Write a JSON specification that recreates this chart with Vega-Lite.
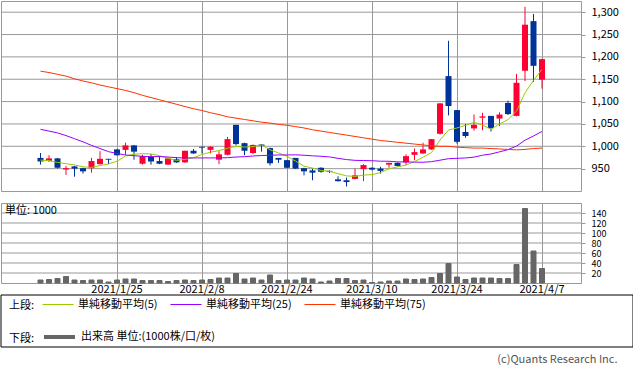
{
  "$schema": "https://vega.github.io/schema/vega-lite/v6.json",
  "padding": 0,
  "background": "white",
  "bounds": "flush",
  "spacing": 12,
  "title": {"text": "(c)Quants Research Inc.", "orient": "bottom", "anchor": "end", "fontSize": 11, "fontWeight": "normal", "color": "#555555", "offset": 6, "dx": -16},
  "config": {
    "font": "Noto Sans CJK JP",
    "view": {"stroke": "#999999"},
    "axis": {"ticks": false, "domain": false, "gridColor": "#999999", "gridOpacity": 1, "gridWidth": 1, "labelFontSize": 11, "labelColor": "#000000", "labelFont": "Noto Sans CJK JP", "labelOverlap": false},
    "legend": {"labelFont": "Noto Sans CJK JP", "titleFont": "Noto Sans CJK JP", "labelFontSize": 11, "titleFontSize": 11, "titleFontWeight": "normal", "labelColor": "#000000", "titleColor": "#000000", "padding": 0}
  },
  "datasets": {
    "priceGrid": [{"g":950},{"g":1000},{"g":1050},{"g":1100},{"g":1150},{"g":1200},{"g":1250},{"g":1300}],
    "volGrid": [{"g":20},{"g":40},{"g":60},{"g":80},{"g":100},{"g":120},{"g":140}],
    "k": [
      {"d":"2021/1/12","o":974,"h":985,"l":959,"c":966,"v":6,"単純移動平均(5)":969,"単純移動平均(25)":1038,"単純移動平均(75)":1168},
      {"d":"2021/1/13","o":967,"h":980,"l":965,"c":973,"v":7,"単純移動平均(5)":968,"単純移動平均(25)":1034,"単純移動平均(75)":1165},
      {"d":"2021/1/14","o":973,"h":974,"l":950,"c":952,"v":9,"単純移動平均(5)":964,"単純移動平均(25)":1030,"単純移動平均(75)":1161},
      {"d":"2021/1/15","o":948,"h":956,"l":936,"c":951,"v":13,"単純移動平均(5)":961,"単純移動平均(25)":1024,"単純移動平均(75)":1157},
      {"d":"2021/1/18","o":955,"h":956,"l":932,"c":950,"v":6,"単純移動平均(5)":958.4,"単純移動平均(25)":1017,"単純移動平均(75)":1151},
      {"d":"2021/1/19","o":951,"h":952,"l":939,"c":944,"v":5,"単純移動平均(5)":954,"単純移動平均(25)":1010,"単純移動平均(75)":1146},
      {"d":"2021/1/20","o":951,"h":974,"l":941,"c":967,"v":6,"単純移動平均(5)":952.8,"単純移動平均(25)":1002,"単純移動平均(75)":1142},
      {"d":"2021/1/21","o":960,"h":989,"l":959,"c":972,"v":6,"単純移動平均(5)":956.8,"単純移動平均(25)":995,"単純移動平均(75)":1137},
      {"d":"2021/1/22","o":972,"h":972,"l":960,"c":970,"v":2,"単純移動平均(5)":960.6,"単純移動平均(25)":988,"単純移動平均(75)":1133},
      {"d":"2021/1/25","o":993,"h":994,"l":979,"c":980,"v":6,"単純移動平均(5)":966.6,"単純移動平均(25)":984,"単純移動平均(75)":1129},
      {"d":"2021/1/26","o":992,"h":1008,"l":981,"c":1002,"v":8,"単純移動平均(5)":978.2,"単純移動平均(25)":980.5,"単純移動平均(75)":1125},
      {"d":"2021/1/27","o":1002,"h":1003,"l":970,"c":988,"v":8,"単純移動平均(5)":982.4,"単純移動平均(25)":979,"単純移動平均(75)":1120},
      {"d":"2021/1/28","o":961,"h":981,"l":959,"c":978,"v":5,"単純移動平均(5)":983.6,"単純移動平均(25)":977.6,"単純移動平均(75)":1114},
      {"d":"2021/1/29","o":976,"h":983,"l":959,"c":966,"v":5,"単純移動平均(5)":982.8,"単純移動平均(25)":977,"単純移動平均(75)":1109},
      {"d":"2021/2/1","o":967,"h":978,"l":960,"c":961,"v":5,"単純移動平均(5)":979,"単純移動平均(25)":977,"単純移動平均(75)":1104},
      {"d":"2021/2/2","o":959,"h":975,"l":958,"c":973,"v":3,"単純移動平均(5)":973.2,"単純移動平均(25)":976,"単純移動平均(75)":1099},
      {"d":"2021/2/3","o":971,"h":976,"l":963,"c":964,"v":5,"単純移動平均(5)":968.4,"単純移動平均(25)":974.5,"単純移動平均(75)":1094},
      {"d":"2021/2/4","o":964,"h":990,"l":963,"c":990,"v":6,"単純移動平均(5)":970.8,"単純移動平均(25)":974,"単純移動平均(75)":1089},
      {"d":"2021/2/5","o":990,"h":994,"l":983,"c":984,"v":5,"単純移動平均(5)":974.4,"単純移動平均(25)":974,"単純移動平均(75)":1084},
      {"d":"2021/2/8","o":999,"h":999,"l":984,"c":997,"v":6,"単純移動平均(5)":981.6,"単純移動平均(25)":974,"単純移動平均(75)":1080},
      {"d":"2021/2/9","o":992,"h":1000,"l":984,"c":999,"v":7,"単純移動平均(5)":986.8,"単純移動平均(25)":974,"単純移動平均(75)":1075},
      {"d":"2021/2/10","o":970,"h":989,"l":960,"c":982,"v":10,"単純移動平均(5)":990.4,"単純移動平均(25)":974,"単純移動平均(75)":1071},
      {"d":"2021/2/12","o":981,"h":1021,"l":980,"c":1016,"v":10,"単純移動平均(5)":995.6,"単純移動平均(25)":974.5,"単純移動平均(75)":1066},
      {"d":"2021/2/15","o":1048,"h":1048,"l":1002,"c":1005,"v":19,"単純移動平均(5)":999.8,"単純移動平均(25)":976,"単純移動平均(75)":1063},
      {"d":"2021/2/16","o":1007,"h":1008,"l":980,"c":990,"v":8,"単純移動平均(5)":998.4,"単純移動平均(25)":976.8,"単純移動平均(75)":1060},
      {"d":"2021/2/17","o":985,"h":1004,"l":983,"c":1003,"v":10,"単純移動平均(5)":999.2,"単純移動平均(25)":978.3,"単純移動平均(75)":1057},
      {"d":"2021/2/18","o":1004,"h":1005,"l":988,"c":1001,"v":6,"単純移動平均(5)":1003,"単純移動平均(25)":979.4,"単純移動平均(75)":1054},
      {"d":"2021/2/19","o":996,"h":997,"l":957,"c":962,"v":16,"単純移動平均(5)":992.2,"単純移動平均(25)":979.8,"単純移動平均(75)":1052},
      {"d":"2021/2/22","o":974,"h":974,"l":963,"c":970,"v":5,"単純移動平均(5)":985.2,"単純移動平均(25)":980.6,"単純移動平均(75)":1049},
      {"d":"2021/2/24","o":969,"h":969,"l":951,"c":952,"v":6,"単純移動平均(5)":977.6,"単純移動平均(25)":980.6,"単純移動平均(75)":1047},
      {"d":"2021/2/25","o":974,"h":974,"l":949,"c":950,"v":6,"単純移動平均(5)":967,"単純移動平均(25)":980.9,"単純移動平均(75)":1044},
      {"d":"2021/2/26","o":951,"h":952,"l":935,"c":944,"v":10,"単純移動平均(5)":955.6,"単純移動平均(25)":980,"単純移動平均(75)":1041},
      {"d":"2021/3/1","o":946,"h":950,"l":924,"c":941,"v":8,"単純移動平均(5)":951.4,"単純移動平均(25)":978.7,"単純移動平均(75)":1037},
      {"d":"2021/3/2","o":952,"h":953,"l":941,"c":943,"v":2,"単純移動平均(5)":946,"単純移動平均(25)":977.7,"単純移動平均(75)":1034},
      {"d":"2021/3/3","o":945,"h":946,"l":940,"c":943,"v":4,"単純移動平均(5)":944.2,"単純移動平均(25)":976.2,"単純移動平均(75)":1031},
      {"d":"2021/3/4","o":926,"h":933,"l":921,"c":922,"v":9,"単純移動平均(5)":938.6,"単純移動平均(25)":973,"単純移動平均(75)":1028},
      {"d":"2021/3/5","o":924,"h":930,"l":910,"c":920,"v":9,"単純移動平均(5)":933.8,"単純移動平均(25)":970.3,"単純移動平均(75)":1025},
      {"d":"2021/3/8","o":927,"h":950,"l":926,"c":935,"v":5,"単純移動平均(5)":932.6,"単純移動平均(25)":968.6,"単純移動平均(75)":1022},
      {"d":"2021/3/9","o":949,"h":960,"l":922,"c":958,"v":6,"単純移動平均(5)":935.6,"単純移動平均(25)":968.2,"単純移動平均(75)":1019},
      {"d":"2021/3/10","o":952,"h":953,"l":946,"c":948,"v":1,"単純移動平均(5)":936.6,"単純移動平均(25)":967.7,"単純移動平均(75)":1016},
      {"d":"2021/3/11","o":950,"h":954,"l":939,"c":945,"v":2,"単純移動平均(5)":941.2,"単純移動平均(25)":966.6,"単純移動平均(75)":1013},
      {"d":"2021/3/12","o":959,"h":963,"l":952,"c":963,"v":4,"単純移動平均(5)":949.8,"単純移動平均(25)":966.5,"単純移動平均(75)":1011},
      {"d":"2021/3/15","o":963,"h":964,"l":955,"c":956,"v":4,"単純移動平均(5)":954,"単純移動平均(25)":965.2,"単純移動平均(75)":1009},
      {"d":"2021/3/16","o":964,"h":982,"l":958,"c":978,"v":8,"単純移動平均(5)":958,"単純移動平均(25)":965,"単純移動平均(75)":1007},
      {"d":"2021/3/17","o":981,"h":995,"l":969,"c":987,"v":7,"単純移動平均(5)":965.8,"単純移動平均(25)":964.6,"単純移動平均(75)":1005},
      {"d":"2021/3/18","o":984,"h":1008,"l":983,"c":993,"v":8,"単純移動平均(5)":975.4,"単純移動平均(25)":964.3,"単純移動平均(75)":1003},
      {"d":"2021/3/19","o":993,"h":1016,"l":992,"c":1016,"v":11,"単純移動平均(5)":986,"単純移動平均(25)":965.7,"単純移動平均(75)":1001},
      {"d":"2021/3/22","o":1028,"h":1097,"l":1026,"c":1096,"v":19,"単純移動平均(5)":1014,"単純移動平均(25)":968.9,"単純移動平均(75)":1000},
      {"d":"2021/3/23","o":1157,"h":1236,"l":1069,"c":1090,"v":39,"単純移動平均(5)":1036.4,"単純移動平均(25)":972.3,"単純移動平均(75)":1000},
      {"d":"2021/3/24","o":1081,"h":1081,"l":1006,"c":1010,"v":12,"単純移動平均(5)":1041,"単純移動平均(25)":973.1,"単純移動平均(75)":998},
      {"d":"2021/3/25","o":1032,"h":1050,"l":1019,"c":1023,"v":7,"単純移動平均(5)":1047,"単純移動平均(25)":973.9,"単純移動平均(75)":997},
      {"d":"2021/3/26","o":1040,"h":1071,"l":1035,"c":1048,"v":10,"単純移動平均(5)":1053.4,"単純移動平均(25)":975.8,"単純移動平均(75)":996},
      {"d":"2021/3/29","o":1064,"h":1075,"l":1036,"c":1067,"v":10,"単純移動平均(5)":1047.6,"単純移動平均(25)":980,"単純移動平均(75)":996},
      {"d":"2021/3/30","o":1068,"h":1068,"l":1033,"c":1041,"v":10,"単純移動平均(5)":1037.8,"単純移動平均(25)":982.8,"単純移動平均(75)":995},
      {"d":"2021/3/31","o":1062,"h":1076,"l":1045,"c":1071,"v":9,"単純移動平均(5)":1050,"単純移動平均(25)":987.6,"単純移動平均(75)":994},
      {"d":"2021/4/1","o":1097,"h":1102,"l":1070,"c":1072,"v":9,"単純移動平均(5)":1059.8,"単純移動平均(25)":992.5,"単純移動平均(75)":993},
      {"d":"2021/4/2","o":1068,"h":1162,"l":1067,"c":1142,"v":37,"単純移動平均(5)":1078.6,"単純移動平均(25)":1000.4,"単純移動平均(75)":992},
      {"d":"2021/4/5","o":1169,"h":1312,"l":1146,"c":1272,"v":149,"単純移動平均(5)":1119.6,"単純移動平均(25)":1013.6,"単純移動平均(75)":993},
      {"d":"2021/4/6","o":1280,"h":1296,"l":1144,"c":1180,"v":64,"単純移動平均(5)":1147.4,"単純移動平均(25)":1023.1,"単純移動平均(75)":995},
      {"d":"2021/4/7","o":1149,"h":1196,"l":1129,"c":1195,"v":29,"単純移動平均(5)":1172.2,"単純移動平均(25)":1033.2,"単純移動平均(75)":996}
    ]
  },
  "vconcat": [
    {
      "width": 580,
      "height": 190,
      "layer": [
        {
          "data": {"name": "priceGrid"},
          "mark": {"type": "rule", "color": "#999999", "strokeWidth": 1},
          "encoding": {
            "y": {"field": "g", "type": "quantitative", "title": null, "scale": {"domain": [900, 1325], "nice": false, "zero": false},
                  "axis": {"orient": "right", "values": [950,1000,1050,1100,1150,1200,1250,1300], "format": ",.0f", "grid": false, "ticks": true, "tickSize": 4, "tickColor": "#999999", "labelPadding": 6}}
          }
        },
        {
          "data": {"name": "k"},
          "mark": {"type": "rule", "strokeWidth": 1},
          "encoding": {
            "x": {"field": "d", "type": "ordinal", "sort": null, "title": null,
                  "scale": {"range": [35.25, 545.25], "paddingInner": 0, "paddingOuter": 0},
                  "axis": {"values": ["2021/1/25","2021/2/8","2021/2/24","2021/3/10","2021/3/24","2021/4/7"], "labels": false, "grid": true, "bandPosition": 0.5}},
            "y": {"field": "l", "type": "quantitative", "title": null, "scale": {"domain": [900, 1325], "nice": false, "zero": false},
                  "axis": {"orient": "right", "values": [950,1000,1050,1100,1150,1200,1250,1300], "format": ",.0f", "grid": false, "ticks": true, "tickSize": 4, "tickColor": "#999999", "labelPadding": 6}},
            "y2": {"field": "h"},
            "color": {"condition": {"test": "datum.c >= datum.o", "value": "#ff0033"}, "value": "#003399"}
          }
        },
        {
          "data": {"name": "k"},
          "mark": {"type": "bar", "width": 6},
          "encoding": {
            "x": {"field": "d", "type": "ordinal", "sort": null, "title": null,
                  "scale": {"range": [35.25, 545.25], "paddingInner": 0, "paddingOuter": 0},
                  "axis": {"values": ["2021/1/25","2021/2/8","2021/2/24","2021/3/10","2021/3/24","2021/4/7"], "labels": false, "grid": true, "bandPosition": 0.5}},
            "y": {"field": "o", "type": "quantitative", "title": null, "scale": {"domain": [900, 1325], "nice": false, "zero": false},
                  "axis": {"orient": "right", "values": [950,1000,1050,1100,1150,1200,1250,1300], "format": ",.0f", "grid": false, "ticks": true, "tickSize": 4, "tickColor": "#999999", "labelPadding": 6}},
            "y2": {"field": "c"},
            "color": {"condition": {"test": "datum.c >= datum.o", "value": "#ff0033"}, "value": "#003399"}
          }
        },
        {
          "data": {"name": "k"},
          "transform": [{"fold": ["単純移動平均(5)", "単純移動平均(25)", "単純移動平均(75)"], "as": ["系列", "値"]}],
          "mark": {"type": "line", "strokeWidth": 1},
          "encoding": {
            "x": {"field": "d", "type": "ordinal", "sort": null, "title": null,
                  "scale": {"range": [35.25, 545.25], "paddingInner": 0, "paddingOuter": 0},
                  "axis": {"values": ["2021/1/25","2021/2/8","2021/2/24","2021/3/10","2021/3/24","2021/4/7"], "labels": false, "grid": true, "bandPosition": 0.5}},
            "y": {"field": "値", "type": "quantitative", "title": null, "scale": {"domain": [900, 1325], "nice": false, "zero": false},
                  "axis": {"orient": "right", "values": [950,1000,1050,1100,1150,1200,1250,1300], "format": ",.0f", "grid": false, "ticks": true, "tickSize": 4, "tickColor": "#999999", "labelPadding": 6}},
            "color": {"field": "系列", "type": "nominal",
                      "scale": {"domain": ["単純移動平均(5)", "単純移動平均(25)", "単純移動平均(75)"], "range": ["#99cc00", "#9900ff", "#ff3300"]},
                      "legend": {"orient": "none", "legendX": 8, "legendY": 287.5, "direction": "horizontal", "title": "上段:", "titleOrient": "left", "titleAnchor": "middle", "titleBaseline": "top", "titlePadding": 7, "symbolType": "stroke", "symbolSize": 961, "symbolStrokeWidth": 1, "labelOffset": 4, "columnPadding": 10, "labelLimit": 300}}
          }
        }
      ]
    },
    {
      "width": 580,
      "height": 80,
      "title": {"text": "単位: 1000", "anchor": "start", "frame": "group", "offset": -13, "dx": 4, "fontSize": 11, "fontWeight": "normal", "color": "#000000"},
      "layer": [
        {
          "data": {"name": "volGrid"},
          "mark": {"type": "rule", "color": "#999999", "strokeWidth": 1},
          "encoding": {
            "y": {"field": "g", "type": "quantitative", "title": null, "scale": {"domain": [0, 160], "nice": false},
                  "axis": {"orient": "right", "values": [20,40,60,80,100,120,140], "grid": false, "ticks": true, "tickSize": 4, "tickColor": "#999999", "labelPadding": 6, "labelFontSize": 9}}
          }
        },
        {
          "data": {"name": "k"},
          "mark": {"type": "bar", "width": 5, "fill": "#666666", "strokeWidth": 1},
          "encoding": {
            "x": {"field": "d", "type": "ordinal", "sort": null, "title": null,
                  "scale": {"range": [35.25, 545.25], "paddingInner": 0, "paddingOuter": 0},
                  "axis": {"values": ["2021/1/25","2021/2/8","2021/2/24","2021/3/10","2021/3/24","2021/4/7"], "grid": true, "bandPosition": 0.5, "labelPadding": 0, "labelAngle": 0}},
            "y": {"field": "v", "type": "quantitative", "title": null, "scale": {"domain": [0, 160], "nice": false},
                  "axis": {"orient": "right", "values": [20,40,60,80,100,120,140], "grid": false, "ticks": true, "tickSize": 4, "tickColor": "#999999", "labelPadding": 6, "labelFontSize": 9}},
            "stroke": {"datum": "出来高 単位:(1000株/口/枚)", "type": "nominal", "scale": {"range": ["#666666"]},
                       "legend": {"orient": "none", "legendX": 8, "legendY": 318.5, "title": "下段:", "titleOrient": "left", "titleAnchor": "middle", "titleBaseline": "top", "titlePadding": 7, "symbolType": "stroke", "symbolSize": 961, "symbolStrokeWidth": 4, "symbolStrokeColor": "#666666", "labelOffset": 4, "labelLimit": 300}}
          }
        }
      ]
    },
    {
      "width": 632,
      "height": 52,
      "view": {"stroke": null},
      "data": {"values": [{"区分": "凡例"}]},
      "mark": {"type": "rect", "fill": "transparent", "stroke": "#000000", "strokeWidth": 1},
      "encoding": {}
    }
  ]
}
